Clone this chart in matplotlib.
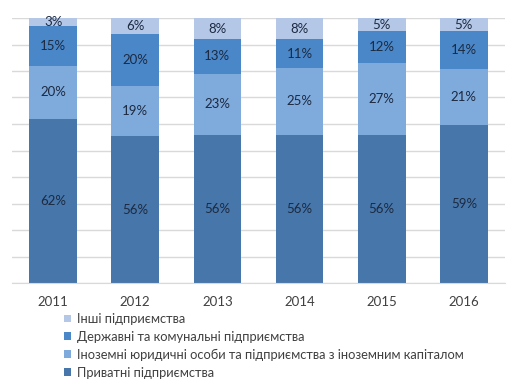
import matplotlib
matplotlib.use("Agg")
import matplotlib.pyplot as plt
import numpy as np

years = ["2011", "2012", "2013", "2014", "2015", "2016"]
private = [62, 56, 56, 56, 56, 59]
foreign = [20, 19, 23, 25, 27, 21]
state = [15, 20, 13, 11, 12, 14]
other = [3, 6, 8, 8, 5, 5]

names = ["Приватні підприємства",
         "Іноземні юридичні особи та підприємства з іноземним капіталом",
         "Державні та комунальні підприємства",
         "Інші підприємства"]
colors = ["#4776aa", "#7faadc", "#4a87c8", "#b4c7e7"]

plt.rcParams['font.family'] = ['Lato', 'DejaVu Sans']

fig = plt.figure(figsize=(5.16, 3.89), dpi=100)
ax = fig.add_axes([12/516, (389-283)/389, (505-12)/516, (283-18)/389])

series = [private, foreign, state, other]
data = np.array(series, dtype=float)
totals = data.sum(axis=0)
frac = data / totals

x = np.arange(len(years))
bottom = np.zeros(len(years))
bars = []
for vals, raw, name, c in zip(frac, series, names, colors):
    b = ax.bar(x, vals, 0.58, bottom=bottom, color=c, label=name, zorder=2)
    bars.append(b)
    for xi, v, bt, r in zip(x, vals, bottom, raw):
        ax.text(xi, bt + v/2, f"{r}%", ha="center", va="center",
                fontsize=9.5, color="#1c2a40", zorder=3)
    bottom += vals

ax.set_xlim(-0.5, len(years) - 0.5)
ax.set_ylim(0, 1.0)
ax.set_yticks(np.arange(0, 1.01, 0.1))
ax.yaxis.grid(True, color="#d9d9d9", linewidth=1, zorder=0)
ax.tick_params(axis="y", left=False, labelleft=False)
ax.tick_params(axis="x", bottom=False, labelsize=9.5, colors="#404040", pad=6)
ax.set_xticks(x)
ax.set_xticklabels(years)
for s in ["top", "right", "left"]:
    ax.spines[s].set_visible(False)
ax.spines["bottom"].set_color("#d9d9d9")

handles = [bars[3], bars[2], bars[1], bars[0]]
labels = [names[3], names[2], names[1], names[0]]
leg = fig.legend(handles, labels, loc="upper left", bbox_to_anchor=(64/516, 1 - 313/389),
                 frameon=False, fontsize=9.3, handlelength=0.55, handleheight=0.55,
                 handletextpad=0.45, labelspacing=0.45, borderpad=0, borderaxespad=0)
for t in leg.get_texts():
    t.set_color("#404040")

fig.savefig("out.png", dpi=100)
